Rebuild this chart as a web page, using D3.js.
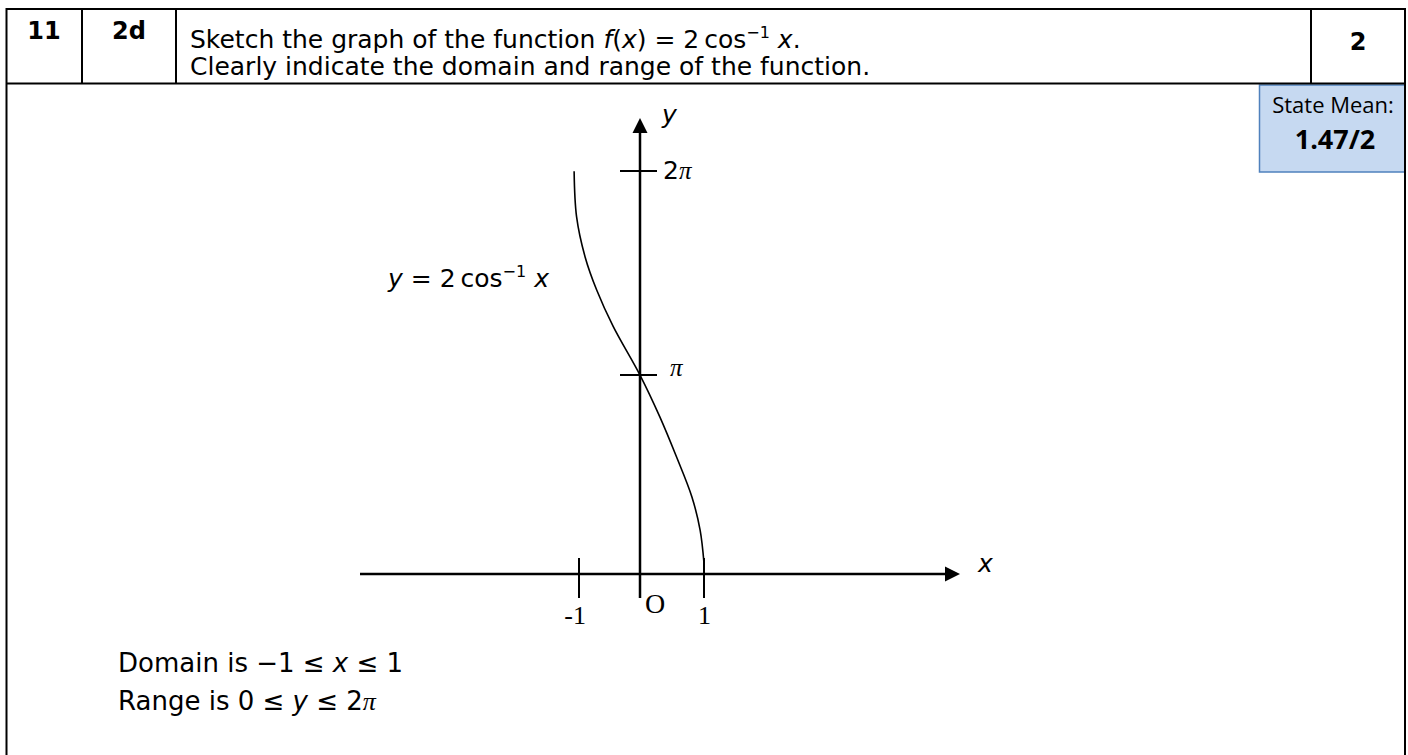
<!DOCTYPE html>
<html>
<head>
<meta charset="utf-8">
<title>Sketch of 2 cos^-1 x</title>
<style>
  body { margin: 0; background: #fff; }
  svg { display: block; }
  .sans { font-family: "DejaVu Sans", Verdana, sans-serif; }
  .serif { font-family: "Liberation Serif", "Times New Roman", serif; }
  .calib { font-family: "Open Sans", "Liberation Sans", sans-serif; }
</style>
</head>
<body>
<div id="chart"></div>
<script src="https://cdn.jsdelivr.net/npm/d3@7"></script>
<script>
  const curveX = [-1.08, -1.04, -0.90, -0.71, -0.44, 0, 0.31, 0.57, 0.81, 0.94, 1.0];
  const curveY = [6.28, 5.58, 4.96, 4.45, 3.89, 3.14, 2.48, 1.85, 1.22, 0.69, 0.17];

  const xTicks = [-1, 1];
  const xTickLabels = ["-1", "1"];
  const yTicks = [Math.PI, 2 * Math.PI];
  const yTickLabels = ["π", "2π"];

  const W = 1408, H = 755;
  const svg = d3.select("#chart").append("svg")
    .attr("width", W)
    .attr("height", H);

  // ---- header table (the page is cut off below, so no bottom rule) ----
  const tLeft = 6.5, tRight = 1405, tTop = 9, headBottom = 83.5;
  const cols = [82, 176, 1311];

  // state mean box (drawn first so the black border sits on top)
  svg.append("rect")
    .attr("x", 1259.5).attr("y", 85)
    .attr("width", tRight - 1259.5).attr("height", 87)
    .attr("fill", "#c6d9f1")
    .attr("stroke", "#4f81bd")
    .attr("stroke-width", 1.5);

  svg.append("text").attr("class", "calib")
    .attr("x", 1333).attr("y", 113)
    .attr("text-anchor", "middle")
    .attr("font-size", 22)
    .text("State Mean:");
  svg.append("text").attr("class", "calib")
    .attr("x", 1335).attr("y", 149)
    .attr("text-anchor", "middle")
    .attr("font-size", 27)
    .attr("font-weight", "bold")
    .text("1.47/2");

  const frame = svg.append("g")
    .attr("stroke", "#000")
    .attr("stroke-width", 2)
    .attr("fill", "none");
  frame.append("path")
    .attr("d", `M${tLeft},${H + 2}V${tTop}H${tRight}V${H + 2}`);
  frame.append("line")
    .attr("x1", tLeft).attr("x2", tRight)
    .attr("y1", headBottom).attr("y2", headBottom);
  cols.forEach(c => {
    frame.append("line")
      .attr("x1", c).attr("x2", c)
      .attr("y1", tTop).attr("y2", headBottom);
  });

  svg.append("text").attr("class", "sans")
    .attr("x", 44).attr("y", 39)
    .attr("text-anchor", "middle")
    .attr("font-size", 24).attr("font-weight", "bold")
    .text("11");
  svg.append("text").attr("class", "sans")
    .attr("x", 129).attr("y", 39)
    .attr("text-anchor", "middle")
    .attr("font-size", 24).attr("font-weight", "bold")
    .text("2d");
  svg.append("text").attr("class", "sans")
    .attr("x", 1358).attr("y", 50)
    .attr("text-anchor", "middle")
    .attr("font-size", 24).attr("font-weight", "bold")
    .text("2");

  const q1 = svg.append("text").attr("class", "sans")
    .attr("x", 190).attr("y", 48)
    .attr("font-size", 25);
  q1.append("tspan").text("Sketch the graph of the function ");
  q1.append("tspan").attr("font-style", "italic").text("f");
  q1.append("tspan").text("(");
  q1.append("tspan").attr("font-style", "italic").text("x");
  q1.append("tspan").text(") = 2\u2009cos");
  q1.append("tspan").attr("font-size", 16).attr("dy", -10).text("−1");
  q1.append("tspan").attr("dy", 10).text(" ");
  q1.append("tspan").attr("font-style", "italic").text("x");
  q1.append("tspan").text(".");

  svg.append("text").attr("class", "sans")
    .attr("x", 190).attr("y", 75)
    .attr("font-size", 25)
    .text("Clearly indicate the domain and range of the function.");

  // ---- the sketch ----
  const x = d3.scaleLinear().domain([-1, 0, 1]).range([579, 640, 704]);
  const y = d3.scaleLinear().domain([0, Math.PI, 2 * Math.PI]).range([574, 375, 171]);

  const x0 = x(0), y0 = y(0);
  const axisLeft = 360, axisTip = 960, yAxisBottom = 598, yAxisTip = 118, head = 15;

  const axes = svg.append("g").attr("stroke", "#000").attr("stroke-width", 2.5);
  axes.append("line")
    .attr("x1", axisLeft).attr("x2", axisTip - head)
    .attr("y1", y0).attr("y2", y0);
  axes.append("line")
    .attr("x1", x0).attr("x2", x0)
    .attr("y1", yAxisBottom).attr("y2", yAxisTip + head);

  svg.append("path")
    .attr("d", `M${axisTip},${y0}L${axisTip - head},${y0 - 7.5}L${axisTip - head},${y0 + 7.5}Z`)
    .attr("fill", "#000");
  svg.append("path")
    .attr("d", `M${x0},${yAxisTip}L${x0 - 7.5},${yAxisTip + head}L${x0 + 7.5},${yAxisTip + head}Z`)
    .attr("fill", "#000");

  // ticks
  svg.append("g").selectAll("line").data(xTicks).join("line")
    .attr("x1", d => x(d)).attr("x2", d => x(d))
    .attr("y1", y0 - 16).attr("y2", y0 + 24)
    .attr("stroke", "#000").attr("stroke-width", 2);
  svg.append("g").selectAll("line").data(yTicks).join("line")
    .attr("x1", x0 - 20).attr("x2", x0 + 17)
    .attr("y1", d => y(d)).attr("y2", d => y(d))
    .attr("stroke", "#000").attr("stroke-width", 2);

  // tick labels
  svg.append("g").selectAll("text").data(xTicks).join("text")
    .attr("class", "serif")
    .attr("x", d => x(d) + 7)
    .attr("y", y0 + 50)
    .attr("text-anchor", "end")
    .attr("font-size", 26)
    .text((d, i) => xTickLabels[i]);
  svg.append("text").attr("class", "serif")
    .attr("x", x0 + 15).attr("y", y0 + 39)
    .attr("text-anchor", "middle")
    .attr("font-size", 28)
    .text("O");

  const yl = svg.append("g").selectAll("text").data(yTicks).join("text")
    .attr("x", x0 + 23)
    .attr("y", d => y(d) + 8)
    .attr("font-size", 25);
  yl.each(function (d, i) {
    const lab = yTickLabels[i];
    const t = d3.select(this);
    if (lab.length > 1) {
      t.append("tspan").attr("class", "sans").text(lab.slice(0, -1));
    } else {
      t.attr("dx", 7).attr("dy", -7);
    }
    t.append("tspan").attr("class", "serif").attr("font-style", "italic").text("π");
  });

  // axis names
  svg.append("text").attr("class", "sans")
    .attr("x", x0 + 22).attr("y", yAxisTip + 5)
    .attr("font-size", 25).attr("font-style", "italic")
    .text("y");
  svg.append("text").attr("class", "sans")
    .attr("x", axisTip + 18).attr("y", y0 - 2)
    .attr("font-size", 25).attr("font-style", "italic")
    .text("x");

  // curve
  const pts = curveX.map((v, i) => [v, curveY[i]]);
  const line = d3.line()
    .x(d => x(d[0]))
    .y(d => y(d[1]))
    .curve(d3.curveCatmullRom.alpha(0.5));
  svg.append("path")
    .attr("d", line(pts))
    .attr("fill", "none")
    .attr("stroke", "#000")
    .attr("stroke-width", 1.6);

  // curve label
  const cl = svg.append("text").attr("class", "sans")
    .attr("x", 388).attr("y", 287)
    .attr("font-size", 25);
  cl.append("tspan").attr("font-style", "italic").text("y");
  cl.append("tspan").text(" = 2\u2009cos");
  cl.append("tspan").attr("font-size", 16).attr("dy", -10).text("−1");
  cl.append("tspan").attr("dy", 10).text(" ");
  cl.append("tspan").attr("font-style", "italic").text("x");

  // domain / range answer
  const d1 = svg.append("text").attr("class", "sans")
    .attr("x", 118).attr("y", 672).attr("font-size", 26);
  d1.append("tspan").text("Domain is −1 ≤ ");
  d1.append("tspan").attr("font-style", "italic").text("x");
  d1.append("tspan").text(" ≤ 1");

  const d2 = svg.append("text").attr("class", "sans")
    .attr("x", 118).attr("y", 710).attr("font-size", 26);
  d2.append("tspan").text("Range is 0 ≤ ");
  d2.append("tspan").attr("font-style", "italic").text("y");
  d2.append("tspan").text(" ≤ 2");
  d2.append("tspan").attr("class", "serif").attr("font-style", "italic").text("π");
</script>
</body>
</html>
